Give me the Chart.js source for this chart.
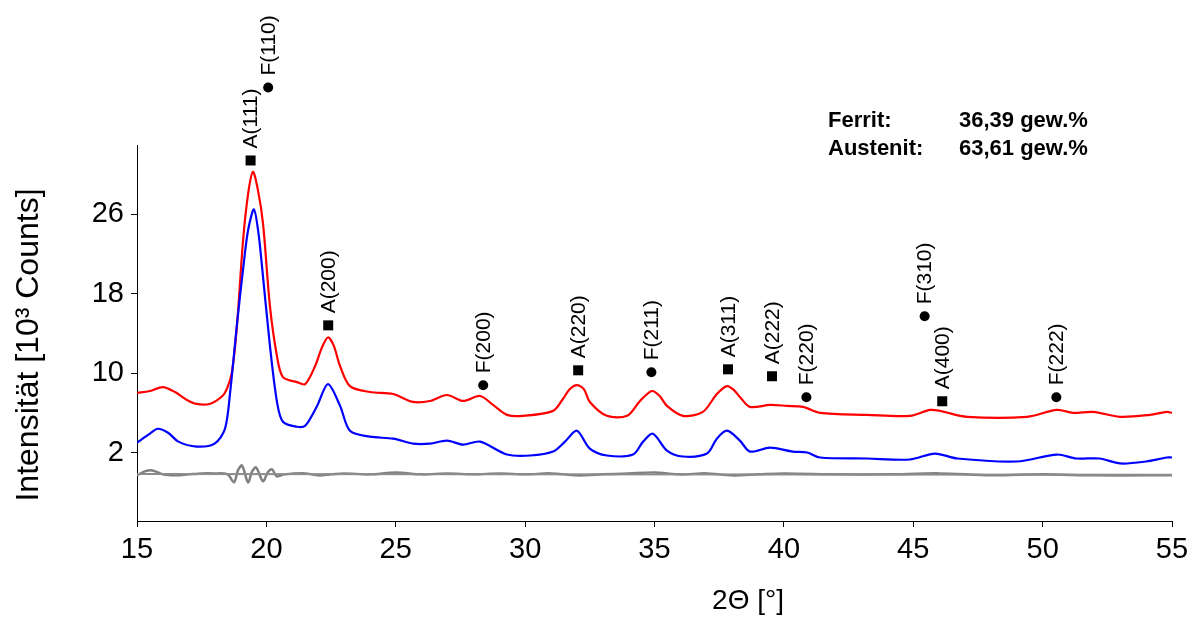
<!DOCTYPE html>
<html>
<head>
<meta charset="utf-8">
<script src="https://cdn.jsdelivr.net/npm/chart.js@4.4.1/dist/chart.umd.min.js"></script>
<style>
    body { margin: 0; background: #fff; }
    #wrap { width: 1196px; height: 618px; }
</style>
</head>
<body>
<div id="wrap"><canvas id="xrd-chart"></canvas></div>
<script>
// measured pattern (red), calculated pattern (blue), difference + background (grey)
var redAngles = [15.0, 15.5, 16.0, 16.47, 16.93, 17.3, 17.8, 18.3, 18.5, 18.67, 18.86, 19.1, 19.29, 19.48, 19.67, 19.87, 20.14, 20.41, 20.64, 21.18, 21.5, 21.88, 22.15, 22.38, 22.6, 22.85, 23.23, 24.0, 24.9, 25.67, 26.32, 26.98, 27.6, 28.26, 28.76, 29.3, 29.92, 31.08, 31.46, 31.73, 32.0, 32.27, 32.5, 33.16, 33.94, 34.44, 34.9, 35.2, 35.48, 36.1, 36.87, 37.41, 37.8, 38.07, 38.3, 38.69, 39.46, 40.12, 40.74, 41.4, 43.2, 44.87, 45.65, 46.03, 47.08, 49.4, 50.56, 51.17, 51.95, 52.99, 54.15, 54.8, 55.0];
var redCounts = [8.0, 8.2, 8.6, 8.1, 7.3, 6.9, 6.9, 7.7, 8.6, 10.1, 14.7, 23.4, 28.0, 30.3, 28.5, 25.1, 16.7, 11.7, 9.6, 9.1, 8.9, 10.7, 12.6, 13.6, 12.8, 10.7, 8.7, 8.1, 7.9, 7.1, 7.2, 7.8, 7.2, 7.7, 6.8, 5.8, 5.7, 6.2, 7.4, 8.4, 8.8, 8.4, 7.1, 5.7, 5.7, 7.2, 8.2, 7.7, 6.7, 5.7, 6.1, 7.9, 8.7, 8.3, 7.6, 6.6, 6.8, 6.7, 6.6, 6.0, 5.8, 5.7, 6.3, 6.2, 5.6, 5.6, 6.3, 6.0, 6.1, 5.6, 5.8, 6.1, 6.0];

var blueAngles = [15.0, 15.5, 15.8, 16.2, 16.6, 17.3, 18.0, 18.4, 18.6, 18.87, 19.14, 19.3, 19.52, 19.7, 19.83, 20.14, 20.41, 20.64, 21.18, 21.5, 21.96, 22.38, 22.85, 23.23, 24.0, 24.9, 25.67, 26.32, 26.98, 27.6, 28.26, 29.3, 30.2, 31.08, 31.54, 32.0, 32.5, 33.16, 34.17, 34.56, 34.94, 35.48, 36.1, 37.03, 37.41, 37.8, 38.3, 38.69, 39.46, 40.35, 40.9, 41.4, 43.2, 44.87, 45.84, 46.7, 49.0, 50.56, 51.3, 52.2, 53.0, 54.0, 54.8, 55.0];
var blueCounts = [3.0, 3.9, 4.4, 4.0, 3.1, 2.6, 2.9, 4.4, 8.1, 15.1, 21.4, 24.5, 26.5, 24.0, 20.8, 12.7, 7.1, 5.1, 4.6, 4.7, 6.7, 8.9, 6.7, 4.2, 3.6, 3.4, 2.9, 2.9, 3.2, 2.8, 3.1, 1.8, 1.7, 2.1, 3.1, 4.2, 2.4, 1.7, 1.8, 3.1, 3.9, 2.2, 1.6, 1.9, 3.4, 4.2, 3.2, 2.1, 2.5, 2.1, 2.0, 1.5, 1.4, 1.3, 1.9, 1.4, 1.1, 1.8, 1.4, 1.4, 0.9, 1.1, 1.5, 1.5];

var diffAngles = [15.0, 15.3, 15.6, 16.0, 16.5, 17.0, 17.5, 18.0, 18.5, 18.75, 18.9, 19.06, 19.29, 19.45, 19.6, 19.87, 20.05, 20.22, 20.4, 20.7, 21.5, 22.0, 22.5, 23.0, 24.0, 25.0, 26.0, 27.0, 28.0, 29.0, 30.0, 31.0, 32.0, 33.0, 34.0, 35.0, 36.0, 37.0, 38.0, 39.0, 40.0, 42.0, 44.0, 46.0, 48.0, 50.0, 52.0, 54.0, 55.0];
var diffCounts = [-0.3, 0.1, 0.2, -0.2, -0.3, -0.2, -0.1, -0.1, -0.2, -1.0, 0.2, 0.7, -1.0, 0.1, 0.5, -0.9, 0.0, 0.3, -0.4, -0.2, -0.1, -0.3, -0.2, -0.1, -0.2, 0.0, -0.2, -0.1, -0.2, -0.1, -0.2, -0.1, -0.3, -0.2, -0.1, 0.0, -0.2, -0.1, -0.3, -0.2, -0.1, -0.2, -0.2, -0.1, -0.3, -0.2, -0.3, -0.3, -0.3];

var baseAngles = [15.0, 55.0];
var baseCounts = [-0.15, -0.25];

// reflex markers
var peakLabels = ["A(111)", "F(110)", "A(200)", "F(200)", "A(220)", "F(211)", "A(311)", "A(222)", "F(220)", "F(310)", "A(400)", "F(222)"];
var peakAngles = [19.39, 20.07, 22.39, 28.38, 32.05, 34.88, 37.84, 39.54, 40.87, 45.44, 46.12, 50.53];
var peakHeights = [31.44, 38.79, 14.82, 8.78, 10.29, 10.09, 10.39, 9.69, 7.57, 15.73, 7.17, 7.57];

var yTicks = [2, 10, 18, 26];
var xTicks = [15, 20, 25, 30, 35, 40, 45, 50, 55];

var FONT = '"Liberation Sans", Arial, Helvetica, sans-serif';
Chart.defaults.font.family = FONT;
Chart.defaults.color = "#000";

function zip(xs, ys) {
    return xs.map(function(x, i) { return { x: x, y: ys[i] }; });
}

var textPlugin = {
    id: "xrdText",
    afterDraw: function(chart) {
        var ctx = chart.ctx;
        var xs = chart.scales.x, ys = chart.scales.y;
        ctx.save();
        ctx.fillStyle = "#000";

        // reflex markers (■ austenite, ● ferrite) and rotated labels
        ctx.font = "21px " + FONT;
        ctx.textAlign = "left";
        ctx.textBaseline = "middle";
        peakLabels.forEach(function(txt, i) {
            var px = xs.getPixelForValue(peakAngles[i]);
            var py = ys.getPixelForValue(peakHeights[i]);
            ctx.beginPath();
            if (txt.charAt(0) === "A") {
                ctx.rect(px - 5, py - 5, 10, 10);
            } else {
                ctx.arc(px, py, 5, 0, Math.PI * 2);
            }
            ctx.fill();
            ctx.save();
            ctx.translate(px + 1, py - 12);
            ctx.rotate(-Math.PI / 2);
            ctx.fillText(txt, 0, 0);
            ctx.restore();
        });

        // phase fractions
        ctx.font = "bold 22px " + FONT;
        ctx.textBaseline = "alphabetic";
        ctx.fillText("Ferrit:", 828, 127);
        ctx.fillText("36,39 gew.%", 959, 127);
        ctx.fillText("Austenit:", 828, 155);
        ctx.fillText("63,61 gew.%", 959, 155);

        // axis titles
        ctx.font = "28px " + FONT;
        ctx.textAlign = "center";
        ctx.textBaseline = "middle";
        ctx.fillText("2\u0398 [\u00b0]", 748, 601);

        ctx.save();
        ctx.translate(29, 345);
        ctx.rotate(-Math.PI / 2);
        ctx.font = "32px " + FONT;
        ctx.fillText("Intensit\u00e4t [10\u00b3 Counts]", 0, 0);
        ctx.restore();

        ctx.restore();
    }
};

var ctx = document.getElementById("xrd-chart").getContext("2d");
var xrdChart = new Chart(ctx, {
    type: "line",
    data: {
        datasets: [
            {
                label: "Untergrund",
                data: zip(baseAngles, baseCounts),
                borderColor: "#8c8c8c",
                borderWidth: 2,
                pointRadius: 0,
                tension: 0
            },
            {
                label: "Differenz",
                data: zip(diffAngles, diffCounts),
                borderColor: "#808080",
                borderWidth: 2.5,
                pointRadius: 0,
                tension: 0.3
            },
            {
                label: "berechnet",
                data: zip(blueAngles, blueCounts),
                borderColor: "#0000ff",
                borderWidth: 2.2,
                pointRadius: 0,
                tension: 0.3
            },
            {
                label: "gemessen",
                data: zip(redAngles, redCounts),
                borderColor: "#ff0000",
                borderWidth: 2.2,
                pointRadius: 0,
                tension: 0.3
            }
        ]
    },
    options: {
        responsive: true,
        maintainAspectRatio: false,
        animation: false,
        layout: { padding: { top: 145, right: 24, left: 0, bottom: 0 } },
        plugins: {
            legend: { display: false },
            tooltip: { enabled: false }
        },
        scales: {
            x: {
                type: "linear",
                min: 15,
                max: 55,
                afterBuildTicks: function(s) { s.ticks = xTicks.map(function(v) { return { value: v }; }); },
                afterFit: function(s) { s.height = 97; },
                grid: { drawOnChartArea: false, color: "#000", tickLength: 6 },
                border: { color: "#000", width: 1 },
                ticks: { font: { size: 29 }, padding: 6, maxRotation: 0 }
            },
            y: {
                min: -4.9,
                max: 33,
                afterBuildTicks: function(s) { s.ticks = yTicks.map(function(v) { return { value: v }; }); },
                afterFit: function(s) { s.width = 137; },
                grid: { drawOnChartArea: false, color: "#000", tickLength: 6 },
                border: { color: "#000", width: 1 },
                ticks: { font: { size: 29 }, padding: 7 }
            }
        }
    },
    plugins: [textPlugin]
});
</script>
</body>
</html>
